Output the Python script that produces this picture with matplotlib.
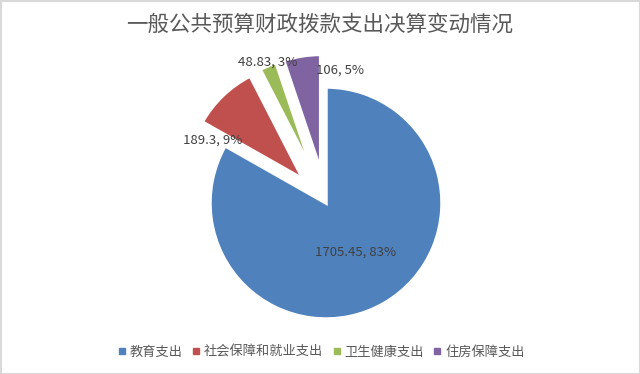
import matplotlib
matplotlib.use("Agg")
import matplotlib.pyplot as plt
from matplotlib.lines import Line2D
import numpy as np

plt.rcParams['font.family'] = ['Noto Sans CJK SC', 'DejaVu Sans']

title = "一般公共预算财政拨款支出决算变动情况"
categories = ["教育支出", "社会保障和就业支出", "卫生健康支出", "住房保障支出"]
values = [1705.45, 189.3, 48.83, 106]
pct_labels = ["83%", "9%", "3%", "5%"]
value_labels = ["1705.45", "189.3", "48.83", "106"]
colors = ["#4F81BD", "#C0504D", "#9BBB59", "#8064A2"]

W, H = 640, 374
fig = plt.figure(figsize=(W / 100, H / 100), dpi=100)
ax = fig.add_axes([0, 0, 1, 1])

cx, cy, R = 326, H - 203, 116
explode = [0, 33, 33, 33]
ax.pie(values, colors=colors, startangle=90, counterclock=False,
       center=(cx, cy), radius=R, explode=explode,
       wedgeprops=dict(edgecolor='white', linewidth=2.5), frame=True)
ax.set_xlim(0, W)
ax.set_ylim(0, H)
ax.set_aspect('equal')
ax.axis('off')

label_pos = [(356, 252), (213, 140), (268, 62), (340, 70)]
for (x, y), v, p in zip(label_pos, value_labels, pct_labels):
    ax.text(x, H - y, f"{v}, {p}", ha='center', va='center',
            fontsize=9.5, color='#404040')

fig.text(0.5, 1 - 25 / H, title, ha='center', va='center',
         fontsize=15.5, color='#595959')

handles = [Line2D([], [], marker='s', linestyle='none', markersize=5,
                  markerfacecolor=c, markeredgecolor=c) for c in colors]
fig.legend(handles, categories, loc='center', bbox_to_anchor=(0.5, 1 - 352 / H),
           ncol=4, frameon=False, fontsize=9.5, handletextpad=0.1,
           columnspacing=0.5, labelcolor='#595959', handlelength=1.0)

rect = plt.Rectangle((0.5, 0.5), W - 1, H - 1, fill=False, edgecolor='#d9d9d9', lw=1.5)
ax.add_patch(rect)

fig.savefig("out.png", dpi=100)
